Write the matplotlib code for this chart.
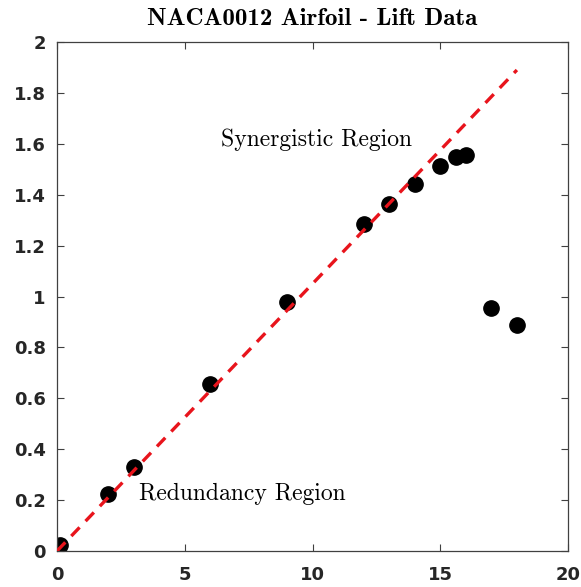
import matplotlib
matplotlib.use("Agg")
import matplotlib.pyplot as plt

# angle of attack (deg) and measured lift coefficient
alpha = [0.1, 2, 3, 6, 9, 12, 13, 14, 15, 15.6, 16, 17, 18]
cl = [0.024, 0.224, 0.33, 0.656, 0.978, 1.285, 1.363, 1.442, 1.513, 1.548, 1.556, 0.955, 0.888]

# thin-airfoil reference line
ref_alpha = [0, 18]
ref_cl = [0, 1.89]

xticks = [0, 5, 10, 15, 20]
yticks = [0, 0.2, 0.4, 0.6, 0.8, 1, 1.2, 1.4, 1.6, 1.8, 2]
ytick_labels = ["0", "0.2", "0.4", "0.6", "0.8", "1", "1.2", "1.4", "1.6", "1.8", "2"]

fig = plt.figure(figsize=(5.81, 5.87), dpi=100)
ax = fig.add_axes([57 / 581, 1 - 551 / 587, 511 / 581, 509 / 587])

ax.plot(alpha, cl, "o", color="black", ms=11, zorder=2)
ax.plot(ref_alpha, ref_cl, color="#e8141c", lw=2.4, dashes=(3.6, 2.6), zorder=3)

ax.text(6.4, 1.615, "Synergistic Region", family="cmr10", fontsize=17, va="center")
ax.text(3.2, 0.225, "Redundancy Region", family="cmr10", fontsize=17, va="center")

ax.set_xlim(0, 20)
ax.set_ylim(0, 2)
ax.set_xticks(xticks)
ax.set_yticks(yticks)
ax.set_yticklabels(ytick_labels)
ax.tick_params(direction="in", top=True, right=True, length=5, width=0.8,
               color="#404040", labelsize=13)
ax.tick_params(axis="x", pad=11)
ax.tick_params(axis="y", pad=8)
for lbl in ax.get_xticklabels() + ax.get_yticklabels():
    lbl.set_fontweight("bold")
    lbl.set_color("#262626")
for sp in ax.spines.values():
    sp.set_color("#404040")
    sp.set_linewidth(0.9)

ax.set_title("NACA0012 Airfoil - Lift Data", family="cmb10", fontsize=18, pad=12)

fig.savefig("out.png", dpi=100)
